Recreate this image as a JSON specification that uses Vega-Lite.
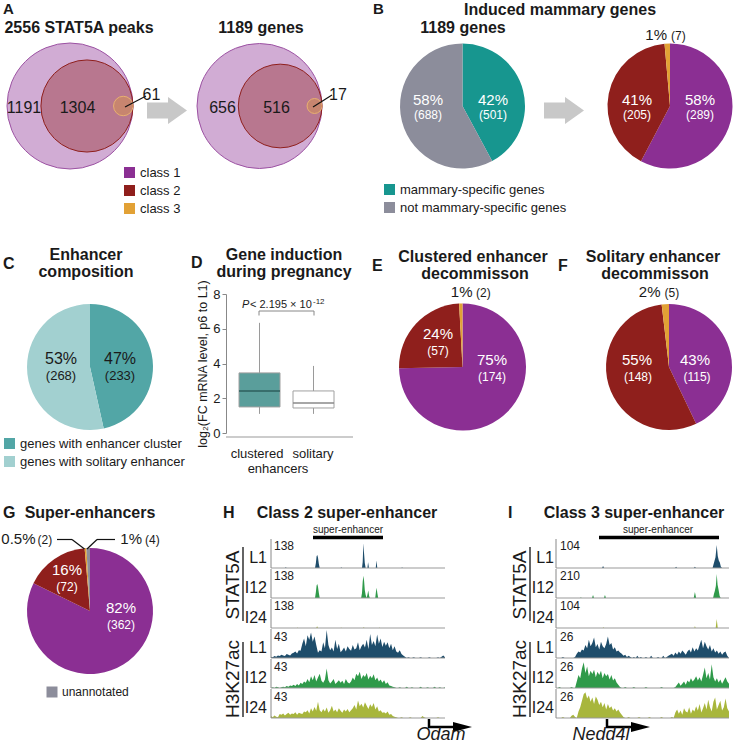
{
"$schema":"https://vega.github.io/schema/vega-lite/v6.json",
"width":733,"height":743,"autosize":{"type":"none"},"padding":0,"background":"white",
"config":{"font":"Liberation Sans","view":{"stroke":null},
"text":{"baseline":"alphabetic","align":"center","color":"#1a1a1a","fontSize":13},
"rule":{"color":"#999999","strokeWidth":1},
"legend":{"labelFontSize":13,"labelColor":"#1a1a1a","symbolType":"square","symbolSize":121,"rowPadding":4,"labelOffset":4,"padding":0,"symbolStrokeWidth":0,"labelLimit":400}},
"data":{"values":[{}]},
"datasets":{
"hS1":[{"p":0,"v":0},{"p":8,"v":0},{"p":8.5,"v":4},{"p":9,"v":0},{"p":25.3,"v":0},{"p":25.8,"v":25},{"p":26.2,"v":58},{"p":26.6,"v":64},{"p":27,"v":52},{"p":27.5,"v":20},{"p":28,"v":0},{"p":40,"v":0},{"p":40.4,"v":4},{"p":40.8,"v":0},{"p":52.3,"v":0},{"p":52.7,"v":30},{"p":53.1,"v":122},{"p":53.5,"v":70},{"p":53.9,"v":25},{"p":54.4,"v":0},{"p":55.4,"v":0},{"p":55.8,"v":28},{"p":56.3,"v":0},{"p":60.2,"v":0},{"p":60.6,"v":37},{"p":61.1,"v":0},{"p":75,"v":0},{"p":75.3,"v":4},{"p":75.7,"v":0},{"p":100,"v":0}],
"hS2":[{"p":0,"v":0},{"p":25.3,"v":0},{"p":25.8,"v":30},{"p":26.2,"v":62},{"p":26.6,"v":69},{"p":27,"v":55},{"p":27.5,"v":25},{"p":28,"v":0},{"p":51.8,"v":0},{"p":52.3,"v":25},{"p":52.7,"v":80},{"p":53.1,"v":110},{"p":53.5,"v":85},{"p":53.9,"v":40},{"p":54.4,"v":15},{"p":55,"v":0},{"p":55.5,"v":20},{"p":55.9,"v":37},{"p":56.4,"v":10},{"p":56.8,"v":0},{"p":59.9,"v":0},{"p":60.3,"v":30},{"p":60.7,"v":51},{"p":61.1,"v":25},{"p":61.6,"v":0},{"p":100,"v":0}],
"hS3":[{"p":0,"v":0},{"p":15,"v":0},{"p":15.3,"v":3},{"p":15.6,"v":0},{"p":26,"v":0},{"p":26.5,"v":9},{"p":27,"v":0},{"p":40,"v":0},{"p":40.3,"v":3},{"p":40.6,"v":0},{"p":53,"v":0},{"p":53.3,"v":5},{"p":53.7,"v":0},{"p":62,"v":0},{"p":62.3,"v":3},{"p":62.6,"v":0},{"p":100,"v":0}],
"hK1":[{"p":0,"v":2},{"p":1,"v":1},{"p":2,"v":3},{"p":3,"v":2},{"p":4,"v":4},{"p":5,"v":3},{"p":6,"v":5},{"p":7,"v":4},{"p":8,"v":3},{"p":9,"v":6},{"p":10,"v":5},{"p":11,"v":4},{"p":12,"v":7},{"p":13,"v":8},{"p":14,"v":10},{"p":15,"v":7},{"p":16,"v":12},{"p":17,"v":11},{"p":18,"v":22},{"p":19,"v":30},{"p":20,"v":18},{"p":21,"v":35},{"p":22,"v":28},{"p":23,"v":39},{"p":24,"v":25},{"p":25,"v":33},{"p":26,"v":20},{"p":27,"v":8},{"p":28,"v":12},{"p":29,"v":10},{"p":30,"v":24},{"p":31,"v":15},{"p":32,"v":43},{"p":33,"v":20},{"p":34,"v":12},{"p":35,"v":16},{"p":36,"v":10},{"p":37,"v":28},{"p":38,"v":14},{"p":39,"v":22},{"p":40,"v":9},{"p":41,"v":12},{"p":42,"v":16},{"p":43,"v":10},{"p":44,"v":18},{"p":45,"v":14},{"p":46,"v":11},{"p":47,"v":20},{"p":48,"v":13},{"p":49,"v":15},{"p":50,"v":24},{"p":51,"v":12},{"p":52,"v":18},{"p":53,"v":22},{"p":54,"v":16},{"p":55,"v":28},{"p":56,"v":14},{"p":57,"v":37},{"p":58,"v":20},{"p":59,"v":26},{"p":60,"v":18},{"p":61,"v":36},{"p":62,"v":22},{"p":63,"v":30},{"p":64,"v":17},{"p":65,"v":25},{"p":66,"v":19},{"p":67,"v":24},{"p":68,"v":15},{"p":69,"v":22},{"p":70,"v":12},{"p":71,"v":18},{"p":72,"v":10},{"p":73,"v":8},{"p":74,"v":12},{"p":75,"v":6},{"p":76,"v":4},{"p":77,"v":2},{"p":78,"v":0},{"p":79,"v":1},{"p":80,"v":0},{"p":81,"v":0},{"p":82,"v":1},{"p":83,"v":0},{"p":84,"v":0},{"p":85,"v":0},{"p":86,"v":1},{"p":87,"v":0},{"p":88,"v":0},{"p":89,"v":0},{"p":90,"v":0},{"p":91,"v":1},{"p":92,"v":0},{"p":93,"v":0},{"p":94,"v":0},{"p":95,"v":0},{"p":96,"v":1},{"p":97,"v":0},{"p":98,"v":2},{"p":99,"v":4},{"p":100,"v":1}],
"hK2":[{"p":0,"v":0},{"p":1,"v":1},{"p":2,"v":0},{"p":3,"v":2},{"p":4,"v":1},{"p":5,"v":0},{"p":6,"v":1},{"p":7,"v":2},{"p":8,"v":1},{"p":9,"v":3},{"p":10,"v":2},{"p":11,"v":4},{"p":12,"v":3},{"p":13,"v":5},{"p":14,"v":3},{"p":15,"v":6},{"p":16,"v":4},{"p":17,"v":8},{"p":18,"v":6},{"p":19,"v":10},{"p":20,"v":8},{"p":21,"v":14},{"p":22,"v":9},{"p":23,"v":18},{"p":24,"v":12},{"p":25,"v":20},{"p":26,"v":10},{"p":27,"v":16},{"p":28,"v":22},{"p":29,"v":11},{"p":30,"v":8},{"p":31,"v":13},{"p":32,"v":30},{"p":33,"v":12},{"p":34,"v":7},{"p":35,"v":10},{"p":36,"v":14},{"p":37,"v":6},{"p":38,"v":9},{"p":39,"v":12},{"p":40,"v":8},{"p":41,"v":11},{"p":42,"v":6},{"p":43,"v":14},{"p":44,"v":9},{"p":45,"v":7},{"p":46,"v":10},{"p":47,"v":16},{"p":48,"v":12},{"p":49,"v":22},{"p":50,"v":18},{"p":51,"v":25},{"p":52,"v":14},{"p":53,"v":20},{"p":54,"v":17},{"p":55,"v":23},{"p":56,"v":13},{"p":57,"v":19},{"p":58,"v":15},{"p":59,"v":21},{"p":60,"v":12},{"p":61,"v":16},{"p":62,"v":10},{"p":63,"v":13},{"p":64,"v":8},{"p":65,"v":12},{"p":66,"v":6},{"p":67,"v":9},{"p":68,"v":4},{"p":69,"v":3},{"p":70,"v":2},{"p":71,"v":1},{"p":72,"v":0},{"p":73,"v":0},{"p":74,"v":1},{"p":75,"v":0},{"p":76,"v":0},{"p":77,"v":0},{"p":78,"v":2},{"p":79,"v":0},{"p":80,"v":0},{"p":81,"v":1},{"p":82,"v":0},{"p":83,"v":0},{"p":84,"v":0},{"p":85,"v":0},{"p":86,"v":2},{"p":87,"v":0},{"p":88,"v":0},{"p":89,"v":0},{"p":90,"v":1},{"p":91,"v":0},{"p":92,"v":0},{"p":93,"v":0},{"p":94,"v":2},{"p":95,"v":0},{"p":96,"v":0},{"p":97,"v":1},{"p":98,"v":0},{"p":99,"v":0},{"p":100,"v":1}],
"hK3":[{"p":0,"v":3},{"p":1,"v":1},{"p":2,"v":4},{"p":3,"v":2},{"p":4,"v":1},{"p":5,"v":6},{"p":6,"v":5},{"p":7,"v":7},{"p":8,"v":4},{"p":9,"v":6},{"p":10,"v":8},{"p":11,"v":5},{"p":12,"v":7},{"p":13,"v":6},{"p":14,"v":9},{"p":15,"v":5},{"p":16,"v":8},{"p":17,"v":7},{"p":18,"v":6},{"p":19,"v":10},{"p":20,"v":9},{"p":21,"v":12},{"p":22,"v":7},{"p":23,"v":15},{"p":24,"v":10},{"p":25,"v":17},{"p":26,"v":11},{"p":27,"v":25},{"p":28,"v":12},{"p":29,"v":9},{"p":30,"v":14},{"p":31,"v":10},{"p":32,"v":16},{"p":33,"v":8},{"p":34,"v":12},{"p":35,"v":19},{"p":36,"v":10},{"p":37,"v":13},{"p":38,"v":9},{"p":39,"v":15},{"p":40,"v":11},{"p":41,"v":8},{"p":42,"v":13},{"p":43,"v":10},{"p":44,"v":14},{"p":45,"v":9},{"p":46,"v":12},{"p":47,"v":15},{"p":48,"v":20},{"p":49,"v":13},{"p":50,"v":27},{"p":51,"v":18},{"p":52,"v":22},{"p":53,"v":16},{"p":54,"v":24},{"p":55,"v":19},{"p":56,"v":14},{"p":57,"v":21},{"p":58,"v":17},{"p":59,"v":23},{"p":60,"v":13},{"p":61,"v":18},{"p":62,"v":10},{"p":63,"v":12},{"p":64,"v":8},{"p":65,"v":9},{"p":66,"v":7},{"p":67,"v":10},{"p":68,"v":5},{"p":69,"v":6},{"p":70,"v":3},{"p":71,"v":2},{"p":72,"v":1},{"p":73,"v":0},{"p":74,"v":0},{"p":75,"v":1},{"p":76,"v":0},{"p":77,"v":0},{"p":78,"v":0},{"p":79,"v":0},{"p":80,"v":1},{"p":81,"v":0},{"p":82,"v":0},{"p":83,"v":0},{"p":84,"v":0},{"p":85,"v":0},{"p":86,"v":0},{"p":87,"v":3},{"p":88,"v":1},{"p":89,"v":0},{"p":90,"v":0},{"p":91,"v":0},{"p":92,"v":0},{"p":93,"v":0},{"p":94,"v":0},{"p":95,"v":0},{"p":96,"v":1},{"p":97,"v":0},{"p":98,"v":0},{"p":99,"v":0},{"p":100,"v":0}],
"iS1":[{"p":0,"v":0},{"p":26.6,"v":0},{"p":27.2,"v":7},{"p":27.8,"v":0},{"p":68.8,"v":0},{"p":69.4,"v":5},{"p":70,"v":0},{"p":79.7,"v":0},{"p":80.3,"v":5},{"p":80.9,"v":0},{"p":90.5,"v":0},{"p":91,"v":12},{"p":91.6,"v":26},{"p":92.2,"v":40},{"p":92.9,"v":85},{"p":93.5,"v":45},{"p":94.1,"v":28},{"p":94.7,"v":20},{"p":95.3,"v":5},{"p":96,"v":0},{"p":100,"v":0}],
"iS2":[{"p":0,"v":0},{"p":14,"v":0},{"p":14.4,"v":6},{"p":14.8,"v":0},{"p":20.8,"v":0},{"p":21.4,"v":22},{"p":22,"v":0},{"p":27.7,"v":0},{"p":28.3,"v":22},{"p":28.9,"v":0},{"p":79.6,"v":0},{"p":80.3,"v":45},{"p":81,"v":0},{"p":90.8,"v":0},{"p":91.3,"v":30},{"p":91.8,"v":52},{"p":92.4,"v":90},{"p":92.9,"v":180},{"p":93.4,"v":100},{"p":94,"v":60},{"p":94.6,"v":15},{"p":95.2,"v":0},{"p":100,"v":0}],
"iS3":[{"p":0,"v":0},{"p":27,"v":0},{"p":27.4,"v":3},{"p":27.8,"v":0},{"p":80,"v":0},{"p":80.3,"v":7},{"p":80.7,"v":0},{"p":92.3,"v":0},{"p":92.9,"v":33},{"p":93.5,"v":0},{"p":100,"v":0}],
"iK1":[{"p":0,"v":0},{"p":1,"v":0},{"p":2,"v":0},{"p":3,"v":0},{"p":4,"v":1},{"p":5,"v":0},{"p":6,"v":0},{"p":7,"v":0},{"p":8,"v":0},{"p":9,"v":0},{"p":10,"v":0},{"p":11,"v":1},{"p":12,"v":4},{"p":13,"v":6},{"p":14,"v":5},{"p":15,"v":8},{"p":16,"v":7},{"p":17,"v":12},{"p":18,"v":9},{"p":19,"v":17},{"p":20,"v":11},{"p":21,"v":14},{"p":22,"v":19},{"p":23,"v":10},{"p":24,"v":13},{"p":25,"v":8},{"p":26,"v":15},{"p":27,"v":11},{"p":28,"v":9},{"p":29,"v":13},{"p":30,"v":20},{"p":31,"v":12},{"p":32,"v":14},{"p":33,"v":8},{"p":34,"v":10},{"p":35,"v":6},{"p":36,"v":7},{"p":37,"v":5},{"p":38,"v":4},{"p":39,"v":2},{"p":40,"v":3},{"p":41,"v":1},{"p":42,"v":2},{"p":43,"v":1},{"p":44,"v":0},{"p":45,"v":1},{"p":46,"v":0},{"p":47,"v":2},{"p":48,"v":0},{"p":49,"v":1},{"p":50,"v":0},{"p":51,"v":0},{"p":52,"v":1},{"p":53,"v":0},{"p":54,"v":0},{"p":55,"v":2},{"p":56,"v":0},{"p":57,"v":0},{"p":58,"v":0},{"p":59,"v":1},{"p":60,"v":0},{"p":61,"v":0},{"p":62,"v":2},{"p":63,"v":0},{"p":64,"v":1},{"p":65,"v":2},{"p":66,"v":3},{"p":67,"v":4},{"p":68,"v":2},{"p":69,"v":5},{"p":70,"v":3},{"p":71,"v":6},{"p":72,"v":4},{"p":73,"v":7},{"p":74,"v":5},{"p":75,"v":3},{"p":76,"v":6},{"p":77,"v":8},{"p":78,"v":5},{"p":79,"v":10},{"p":80,"v":6},{"p":81,"v":9},{"p":82,"v":7},{"p":83,"v":12},{"p":84,"v":17},{"p":85,"v":9},{"p":86,"v":15},{"p":87,"v":11},{"p":88,"v":8},{"p":89,"v":12},{"p":90,"v":6},{"p":91,"v":9},{"p":92,"v":5},{"p":93,"v":7},{"p":94,"v":4},{"p":95,"v":6},{"p":96,"v":3},{"p":97,"v":5},{"p":98,"v":6},{"p":99,"v":2},{"p":100,"v":0}],
"iK2":[{"p":0,"v":0},{"p":1,"v":0},{"p":2,"v":1},{"p":3,"v":0},{"p":4,"v":0},{"p":5,"v":0},{"p":6,"v":0},{"p":7,"v":0},{"p":8,"v":0},{"p":9,"v":1},{"p":10,"v":0},{"p":11,"v":0},{"p":12,"v":6},{"p":13,"v":12},{"p":14,"v":9},{"p":15,"v":18},{"p":16,"v":24},{"p":17,"v":14},{"p":18,"v":20},{"p":19,"v":11},{"p":20,"v":16},{"p":21,"v":13},{"p":22,"v":17},{"p":23,"v":10},{"p":24,"v":15},{"p":25,"v":12},{"p":26,"v":16},{"p":27,"v":9},{"p":28,"v":14},{"p":29,"v":11},{"p":30,"v":13},{"p":31,"v":8},{"p":32,"v":12},{"p":33,"v":7},{"p":34,"v":9},{"p":35,"v":5},{"p":36,"v":3},{"p":37,"v":1},{"p":38,"v":0},{"p":39,"v":0},{"p":40,"v":1},{"p":41,"v":0},{"p":42,"v":0},{"p":43,"v":0},{"p":44,"v":0},{"p":45,"v":1},{"p":46,"v":0},{"p":47,"v":0},{"p":48,"v":0},{"p":49,"v":0},{"p":50,"v":0},{"p":51,"v":0},{"p":52,"v":1},{"p":53,"v":0},{"p":54,"v":0},{"p":55,"v":0},{"p":56,"v":0},{"p":57,"v":0},{"p":58,"v":0},{"p":59,"v":0},{"p":60,"v":0},{"p":61,"v":1},{"p":62,"v":0},{"p":63,"v":0},{"p":64,"v":0},{"p":65,"v":0},{"p":66,"v":0},{"p":67,"v":0},{"p":68,"v":0},{"p":69,"v":1},{"p":70,"v":3},{"p":71,"v":5},{"p":72,"v":2},{"p":73,"v":4},{"p":74,"v":6},{"p":75,"v":3},{"p":76,"v":7},{"p":77,"v":5},{"p":78,"v":9},{"p":79,"v":6},{"p":80,"v":8},{"p":81,"v":11},{"p":82,"v":7},{"p":83,"v":10},{"p":84,"v":6},{"p":85,"v":12},{"p":86,"v":19},{"p":87,"v":9},{"p":88,"v":14},{"p":89,"v":8},{"p":90,"v":22},{"p":91,"v":10},{"p":92,"v":6},{"p":93,"v":9},{"p":94,"v":5},{"p":95,"v":8},{"p":96,"v":4},{"p":97,"v":7},{"p":98,"v":10},{"p":99,"v":6},{"p":100,"v":4}],
"iK3":[{"p":0,"v":0},{"p":1,"v":0},{"p":2,"v":0},{"p":3,"v":0},{"p":4,"v":1},{"p":5,"v":0},{"p":6,"v":0},{"p":7,"v":0},{"p":8,"v":0},{"p":9,"v":2},{"p":10,"v":3},{"p":11,"v":1},{"p":12,"v":0},{"p":13,"v":6},{"p":14,"v":10},{"p":15,"v":16},{"p":16,"v":22},{"p":17,"v":24},{"p":18,"v":18},{"p":19,"v":21},{"p":20,"v":15},{"p":21,"v":19},{"p":22,"v":13},{"p":23,"v":20},{"p":24,"v":17},{"p":25,"v":12},{"p":26,"v":15},{"p":27,"v":10},{"p":28,"v":14},{"p":29,"v":8},{"p":30,"v":13},{"p":31,"v":9},{"p":32,"v":11},{"p":33,"v":7},{"p":34,"v":9},{"p":35,"v":6},{"p":36,"v":8},{"p":37,"v":5},{"p":38,"v":3},{"p":39,"v":1},{"p":40,"v":0},{"p":41,"v":0},{"p":42,"v":1},{"p":43,"v":0},{"p":44,"v":0},{"p":45,"v":0},{"p":46,"v":0},{"p":47,"v":0},{"p":48,"v":1},{"p":49,"v":0},{"p":50,"v":0},{"p":51,"v":0},{"p":52,"v":0},{"p":53,"v":0},{"p":54,"v":1},{"p":55,"v":0},{"p":56,"v":0},{"p":57,"v":0},{"p":58,"v":0},{"p":59,"v":0},{"p":60,"v":0},{"p":61,"v":1},{"p":62,"v":0},{"p":63,"v":0},{"p":64,"v":0},{"p":65,"v":0},{"p":66,"v":0},{"p":67,"v":1},{"p":68,"v":0},{"p":69,"v":5},{"p":70,"v":8},{"p":71,"v":4},{"p":72,"v":7},{"p":73,"v":3},{"p":74,"v":9},{"p":75,"v":6},{"p":76,"v":5},{"p":77,"v":10},{"p":78,"v":4},{"p":79,"v":8},{"p":80,"v":6},{"p":81,"v":11},{"p":82,"v":7},{"p":83,"v":13},{"p":84,"v":5},{"p":85,"v":9},{"p":86,"v":14},{"p":87,"v":8},{"p":88,"v":17},{"p":89,"v":10},{"p":90,"v":6},{"p":91,"v":15},{"p":92,"v":19},{"p":93,"v":8},{"p":94,"v":12},{"p":95,"v":16},{"p":96,"v":7},{"p":97,"v":10},{"p":98,"v":18},{"p":99,"v":9},{"p":100,"v":6}]
},
"resolve":{"scale":{"x":"independent","y":"independent","theta":"independent","color":"independent","fill":"independent","stroke":"independent","size":"independent","fillOpacity":"independent"},"axis":{"x":"independent","y":"independent"},"legend":{"color":"independent","fill":"independent","stroke":"independent","size":"independent","fillOpacity":"independent"}},
"layer":[
{"data":{"values":[{"cls":"class 1","n":2556},{"cls":"class 2","n":1365},{"cls":"class 3","n":61}]},
"mark":{"type":"point","filled":true,"opacity":1,"y":106,"strokeWidth":1},
"encoding":{"x":{"field":"n","type":"quantitative","scale":{"type":"sqrt","domain":[0,2556],"range":[133,70],"zero":false,"nice":false},"axis":null},
"size":{"field":"n","type":"quantitative","scale":{"type":"linear","domain":[0,2556],"range":[0,15876],"nice":false},"legend":null},
"fill":{"field":"cls","type":"nominal","scale":{"domain":["class 1","class 2","class 3"],"range":["#8b2f93","#8f1f1c","#e2a135"]},"legend":null},
"fillOpacity":{"field":"cls","type":"nominal","scale":{"domain":["class 1","class 2","class 3"],"range":[0.4,0.35,0.6]},"legend":null},
"stroke":{"field":"cls","type":"nominal","scale":{"domain":["class 1","class 2","class 3"],"range":["#9c52a3","#8f1f1c","#e8b070"]},"legend":null}}},
{"data":{"values":[{"cls":"class 1","n":1189},{"cls":"class 2","n":533},{"cls":"class 3","n":17}]},
"mark":{"type":"point","filled":true,"opacity":1,"y":106,"strokeWidth":1},
"encoding":{"x":{"field":"n","type":"quantitative","scale":{"type":"sqrt","domain":[0,1189],"range":[322,259.5],"zero":false,"nice":false},"axis":null},
"size":{"field":"n","type":"quantitative","scale":{"type":"linear","domain":[0,1189],"range":[0,15625],"nice":false},"legend":null},
"fill":{"field":"cls","type":"nominal","scale":{"domain":["class 1","class 2","class 3"],"range":["#8b2f93","#8f1f1c","#e2a135"]},"legend":null},
"fillOpacity":{"field":"cls","type":"nominal","scale":{"domain":["class 1","class 2","class 3"],"range":[0.4,0.35,0.6]},"legend":null},
"stroke":{"field":"cls","type":"nominal","scale":{"domain":["class 1","class 2","class 3"],"range":["#9c52a3","#8f1f1c","#e8b070"]},"legend":null}}},
{"mark":{"type":"point","shape":"M-1,-0.4L0.05,-0.4L0.05,-0.675L1,0L0.05,0.675L0.05,0.4L-1,0.4Z","x":167,"y":110.5,"size":1600,"filled":true,"color":"#c8c8c8","opacity":1}},
{"mark":{"type":"point","shape":"M-1,-0.4L0.05,-0.4L0.05,-0.675L1,0L0.05,0.675L0.05,0.4L-1,0.4Z","x":564,"y":110.5,"size":1600,"filled":true,"color":"#c8c8c8","opacity":1}},
{"data":{"values":[{"cls":"mammary-specific genes","n":501},{"cls":"not mammary-specific genes","n":688}]},
"mark":{"type":"arc","x":462.5,"y":106,"outerRadius":62.5},
"encoding":{"theta":{"field":"n","type":"quantitative","stack":true},"color":{"field":"cls","type":"nominal","scale":{"domain":["mammary-specific genes","not mammary-specific genes"],"range":["#17968f","#8c8d9b"]},"legend":{"orient":"none","legendX":383,"legendY":183,"title":null}}}},
{"data":{"values":[{"cls":"class 1","n":289},{"cls":"class 2","n":205},{"cls":"class 3","n":7}]},
"mark":{"type":"arc","x":670,"y":106,"outerRadius":62.5},
"encoding":{"theta":{"field":"n","type":"quantitative","stack":true},"color":{"field":"cls","type":"nominal","scale":{"domain":["class 1","class 2","class 3"],"range":["#8b2f93","#8f1f1c","#e2a135"]},"legend":{"orient":"none","legendX":123,"legendY":166,"title":null}}}},
{"data":{"values":[{"cls":"genes with enhancer cluster","n":233},{"cls":"genes with solitary enhancer","n":268}]},
"mark":{"type":"arc","x":90,"y":367,"outerRadius":63},
"encoding":{"theta":{"field":"n","type":"quantitative","stack":true},"color":{"field":"cls","type":"nominal","scale":{"domain":["genes with enhancer cluster","genes with solitary enhancer"],"range":["#52a6a6","#a2d0d0"]},"legend":{"orient":"none","legendX":3,"legendY":437,"title":null}}}},
{"data":{"values":[{"cls":"class 1","n":174},{"cls":"class 2","n":57},{"cls":"class 3","n":2}]},
"mark":{"type":"arc","x":462.5,"y":367,"outerRadius":63.5},
"encoding":{"theta":{"field":"n","type":"quantitative","stack":true},"color":{"field":"cls","type":"nominal","scale":{"domain":["class 1","class 2","class 3"],"range":["#8b2f93","#8f1f1c","#e2a135"]},"legend":null}}},
{"data":{"values":[{"cls":"class 1","n":115},{"cls":"class 2","n":148},{"cls":"class 3","n":5}]},
"mark":{"type":"arc","x":669,"y":367,"outerRadius":63},
"encoding":{"theta":{"field":"n","type":"quantitative","stack":true},"color":{"field":"cls","type":"nominal","scale":{"domain":["class 1","class 2","class 3"],"range":["#8b2f93","#8f1f1c","#e2a135"]},"legend":null}}},
{"data":{"values":[{"cls":"class 1","n":362},{"cls":"class 2","n":72},{"cls":"class 3","n":2},{"cls":"unannotated","n":4}]},
"mark":{"type":"arc","x":90,"y":611,"outerRadius":63},
"encoding":{"theta":{"field":"n","type":"quantitative","stack":true},"color":{"field":"cls","type":"nominal","scale":{"domain":["class 1","class 2","class 3","unannotated"],"range":["#8b2f93","#8f1f1c","#e2a135","#8c8d9b"]},"legend":{"orient":"none","legendX":46,"legendY":686,"title":null,"values":["unannotated"],"labelFontSize":12}}}},
{"data":{"values":[{"g":"clustered","lo":1.1,"q1":1.5,"med":2.42,"q3":3.46,"hi":6.34},{"g":"solitary","lo":1.1,"q1":1.44,"med":1.73,"q3":2.42,"hi":3.86}]},
"encoding":{"x":{"field":"g","type":"nominal","scale":{"domain":["clustered","solitary"],"range":[232.5,340.5],"paddingInner":0,"paddingOuter":0},"axis":null}},
"layer":[
{"mark":{"type":"rule","color":"#9a9a9a"},"encoding":{"y":{"field":"lo","type":"quantitative","scale":{"domain":[0,8],"range":[433,294],"nice":false,"zero":false},"axis":{"orient":"left","offset":-226,"values":[0,2,4,6,8],"format":"d","grid":false,"labelFontSize":13,"labelColor":"#1a1a1a","labelPadding":2,"tickSize":4,"tickColor":"#888888","domainColor":"#888888","title":"log₂(FC mRNA level, p6 to L1)","titleFontSize":12.5,"titleFontWeight":"normal","titleColor":"#1a1a1a","titlePadding":3}},"y2":{"field":"hi"}}},
{"mark":{"type":"bar","width":41,"stroke":"#a0a0a0","strokeWidth":1},"encoding":{"y":{"field":"q1","type":"quantitative"},"y2":{"field":"q3"},"fill":{"field":"g","type":"nominal","scale":{"domain":["clustered","solitary"],"range":["#5a9e9b","#ffffff"]},"legend":null}}},
{"mark":{"type":"tick","thickness":1.5,"size":41,"opacity":1},"encoding":{"y":{"field":"med","type":"quantitative"},"color":{"field":"g","type":"nominal","scale":{"domain":["clustered","solitary"],"range":["#2e5e5c","#8a8a8a"]},"legend":null}}}
]},
{"data":{"name":"hS1"},"mark":{"type":"area","color":"#1e4d6b"},"encoding":{"x":{"field":"p","type":"quantitative","scale":{"domain":[0,100],"range":[271,445],"zero":false,"nice":false},"axis":null},"y":{"field":"v","type":"quantitative","scale":{"domain":[0,138],"range":[568,540],"nice":false},"axis":null}}},
{"data":{"name":"hS2"},"mark":{"type":"area","color":"#2f9a4a"},"encoding":{"x":{"field":"p","type":"quantitative","scale":{"domain":[0,100],"range":[271,445],"zero":false,"nice":false},"axis":null},"y":{"field":"v","type":"quantitative","scale":{"domain":[0,138],"range":[598,570],"nice":false},"axis":null}}},
{"data":{"name":"hS3"},"mark":{"type":"area","color":"#a8b63c"},"encoding":{"x":{"field":"p","type":"quantitative","scale":{"domain":[0,100],"range":[271,445],"zero":false,"nice":false},"axis":null},"y":{"field":"v","type":"quantitative","scale":{"domain":[0,138],"range":[628,600],"nice":false},"axis":null}}},
{"data":{"name":"hK1"},"mark":{"type":"area","color":"#1e4d6b"},"encoding":{"x":{"field":"p","type":"quantitative","scale":{"domain":[0,100],"range":[271,445],"zero":false,"nice":false},"axis":null},"y":{"field":"v","type":"quantitative","scale":{"domain":[0,43],"range":[658,630],"nice":false},"axis":null}}},
{"data":{"name":"hK2"},"mark":{"type":"area","color":"#2f9a4a"},"encoding":{"x":{"field":"p","type":"quantitative","scale":{"domain":[0,100],"range":[271,445],"zero":false,"nice":false},"axis":null},"y":{"field":"v","type":"quantitative","scale":{"domain":[0,43],"range":[688,660],"nice":false},"axis":null}}},
{"data":{"name":"hK3"},"mark":{"type":"area","color":"#a8b63c"},"encoding":{"x":{"field":"p","type":"quantitative","scale":{"domain":[0,100],"range":[271,445],"zero":false,"nice":false},"axis":null},"y":{"field":"v","type":"quantitative","scale":{"domain":[0,43],"range":[718,690],"nice":false},"axis":null}}},
{"data":{"name":"iS1"},"mark":{"type":"area","color":"#1e4d6b"},"encoding":{"x":{"field":"p","type":"quantitative","scale":{"domain":[0,100],"range":[556,729],"zero":false,"nice":false},"axis":null},"y":{"field":"v","type":"quantitative","scale":{"domain":[0,104],"range":[568,540],"nice":false},"axis":null}}},
{"data":{"name":"iS2"},"mark":{"type":"area","color":"#2f9a4a"},"encoding":{"x":{"field":"p","type":"quantitative","scale":{"domain":[0,100],"range":[556,729],"zero":false,"nice":false},"axis":null},"y":{"field":"v","type":"quantitative","scale":{"domain":[0,210],"range":[598,570],"nice":false},"axis":null}}},
{"data":{"name":"iS3"},"mark":{"type":"area","color":"#a8b63c"},"encoding":{"x":{"field":"p","type":"quantitative","scale":{"domain":[0,100],"range":[556,729],"zero":false,"nice":false},"axis":null},"y":{"field":"v","type":"quantitative","scale":{"domain":[0,104],"range":[628,600],"nice":false},"axis":null}}},
{"data":{"name":"iK1"},"mark":{"type":"area","color":"#1e4d6b"},"encoding":{"x":{"field":"p","type":"quantitative","scale":{"domain":[0,100],"range":[556,729],"zero":false,"nice":false},"axis":null},"y":{"field":"v","type":"quantitative","scale":{"domain":[0,26],"range":[658,630],"nice":false},"axis":null}}},
{"data":{"name":"iK2"},"mark":{"type":"area","color":"#2f9a4a"},"encoding":{"x":{"field":"p","type":"quantitative","scale":{"domain":[0,100],"range":[556,729],"zero":false,"nice":false},"axis":null},"y":{"field":"v","type":"quantitative","scale":{"domain":[0,26],"range":[688,660],"nice":false},"axis":null}}},
{"data":{"name":"iK3"},"mark":{"type":"area","color":"#a8b63c"},"encoding":{"x":{"field":"p","type":"quantitative","scale":{"domain":[0,100],"range":[556,729],"zero":false,"nice":false},"axis":null},"y":{"field":"v","type":"quantitative","scale":{"domain":[0,26],"range":[718,690],"nice":false},"axis":null}}},
{"mark":{"type":"rule","color":"#111111","strokeWidth":1.2},"encoding":{"x":{"value":125},"y":{"value":107},"x2":{"value":146},"y2":{"value":96}}},
{"mark":{"type":"rule","color":"#111111","strokeWidth":1.2},"encoding":{"x":{"value":313},"y":{"value":107},"x2":{"value":332},"y2":{"value":95}}},
{"mark":{"type":"rule","color":"#999999"},"encoding":{"x":{"value":226},"y":{"value":437},"x2":{"value":353},"y2":{"value":437}}},
{"mark":{"type":"rule","color":"#888888"},"encoding":{"x":{"value":259},"y":{"value":311},"x2":{"value":314},"y2":{"value":311}}},
{"mark":{"type":"rule","color":"#888888"},"encoding":{"x":{"value":259},"y":{"value":311},"x2":{"value":259},"y2":{"value":315.5}}},
{"mark":{"type":"rule","color":"#888888"},"encoding":{"x":{"value":314},"y":{"value":311},"x2":{"value":314},"y2":{"value":315.5}}},
{"mark":{"type":"rule","color":"#111111","strokeWidth":1.2},"encoding":{"x":{"value":57},"y":{"value":539.5},"x2":{"value":72},"y2":{"value":539.5}}},
{"mark":{"type":"rule","color":"#111111","strokeWidth":1.2},"encoding":{"x":{"value":72},"y":{"value":539.5},"x2":{"value":84.5},"y2":{"value":549}}},
{"mark":{"type":"rule","color":"#111111","strokeWidth":1.2},"encoding":{"x":{"value":115},"y":{"value":539.5},"x2":{"value":97},"y2":{"value":539.5}}},
{"mark":{"type":"rule","color":"#111111","strokeWidth":1.2},"encoding":{"x":{"value":97},"y":{"value":539.5},"x2":{"value":87},"y2":{"value":549}}},
{"mark":{"type":"rule"},"encoding":{"x":{"value":271},"y":{"value":568},"x2":{"value":445},"y2":{"value":568}}},
{"mark":{"type":"rule"},"encoding":{"x":{"value":271},"y":{"value":598},"x2":{"value":445},"y2":{"value":598}}},
{"mark":{"type":"rule"},"encoding":{"x":{"value":271},"y":{"value":628},"x2":{"value":445},"y2":{"value":628}}},
{"mark":{"type":"rule"},"encoding":{"x":{"value":271},"y":{"value":658},"x2":{"value":445},"y2":{"value":658}}},
{"mark":{"type":"rule"},"encoding":{"x":{"value":271},"y":{"value":688},"x2":{"value":445},"y2":{"value":688}}},
{"mark":{"type":"rule"},"encoding":{"x":{"value":271},"y":{"value":718},"x2":{"value":445},"y2":{"value":718}}},
{"mark":{"type":"rule"},"encoding":{"x":{"value":556},"y":{"value":568},"x2":{"value":729},"y2":{"value":568}}},
{"mark":{"type":"rule"},"encoding":{"x":{"value":556},"y":{"value":598},"x2":{"value":729},"y2":{"value":598}}},
{"mark":{"type":"rule"},"encoding":{"x":{"value":556},"y":{"value":628},"x2":{"value":729},"y2":{"value":628}}},
{"mark":{"type":"rule"},"encoding":{"x":{"value":556},"y":{"value":658},"x2":{"value":729},"y2":{"value":658}}},
{"mark":{"type":"rule"},"encoding":{"x":{"value":556},"y":{"value":688},"x2":{"value":729},"y2":{"value":688}}},
{"mark":{"type":"rule"},"encoding":{"x":{"value":556},"y":{"value":718},"x2":{"value":729},"y2":{"value":718}}},
{"mark":{"type":"rule","color":"#888888"},"encoding":{"x":{"value":271},"y":{"value":539},"x2":{"value":271},"y2":{"value":568}}},
{"mark":{"type":"rule","color":"#888888"},"encoding":{"x":{"value":271},"y":{"value":569},"x2":{"value":271},"y2":{"value":598}}},
{"mark":{"type":"rule","color":"#888888"},"encoding":{"x":{"value":271},"y":{"value":599},"x2":{"value":271},"y2":{"value":628}}},
{"mark":{"type":"rule","color":"#888888"},"encoding":{"x":{"value":271},"y":{"value":629},"x2":{"value":271},"y2":{"value":658}}},
{"mark":{"type":"rule","color":"#888888"},"encoding":{"x":{"value":271},"y":{"value":659},"x2":{"value":271},"y2":{"value":688}}},
{"mark":{"type":"rule","color":"#888888"},"encoding":{"x":{"value":271},"y":{"value":689},"x2":{"value":271},"y2":{"value":718}}},
{"mark":{"type":"rule","color":"#888888"},"encoding":{"x":{"value":556},"y":{"value":539},"x2":{"value":556},"y2":{"value":568}}},
{"mark":{"type":"rule","color":"#888888"},"encoding":{"x":{"value":556},"y":{"value":569},"x2":{"value":556},"y2":{"value":598}}},
{"mark":{"type":"rule","color":"#888888"},"encoding":{"x":{"value":556},"y":{"value":599},"x2":{"value":556},"y2":{"value":628}}},
{"mark":{"type":"rule","color":"#888888"},"encoding":{"x":{"value":556},"y":{"value":629},"x2":{"value":556},"y2":{"value":658}}},
{"mark":{"type":"rule","color":"#888888"},"encoding":{"x":{"value":556},"y":{"value":659},"x2":{"value":556},"y2":{"value":688}}},
{"mark":{"type":"rule","color":"#888888"},"encoding":{"x":{"value":556},"y":{"value":689},"x2":{"value":556},"y2":{"value":718}}},
{"mark":{"type":"rule","color":"#111111","strokeWidth":1.3},"encoding":{"x":{"value":243},"y":{"value":547},"x2":{"value":243},"y2":{"value":621}}},
{"mark":{"type":"rule","color":"#111111","strokeWidth":1.3},"encoding":{"x":{"value":243},"y":{"value":642},"x2":{"value":243},"y2":{"value":717}}},
{"mark":{"type":"rule","color":"#111111","strokeWidth":1.3},"encoding":{"x":{"value":530},"y":{"value":547},"x2":{"value":530},"y2":{"value":621}}},
{"mark":{"type":"rule","color":"#111111","strokeWidth":1.3},"encoding":{"x":{"value":530},"y":{"value":642},"x2":{"value":530},"y2":{"value":717}}},
{"mark":{"type":"rule","color":"#000000","strokeWidth":3.5},"encoding":{"x":{"value":313},"y":{"value":537.5},"x2":{"value":383},"y2":{"value":537.5}}},
{"mark":{"type":"rule","color":"#000000","strokeWidth":3.5},"encoding":{"x":{"value":599},"y":{"value":537.5},"x2":{"value":719},"y2":{"value":537.5}}},
{"mark":{"type":"rule","color":"#000000","strokeWidth":2.5},"encoding":{"x":{"value":429},"y":{"value":719},"x2":{"value":429},"y2":{"value":728}}},
{"mark":{"type":"rule","color":"#000000","strokeWidth":2.5},"encoding":{"x":{"value":428},"y":{"value":727},"x2":{"value":455},"y2":{"value":727}}},
{"mark":{"type":"rule","color":"#000000","strokeWidth":2.5},"encoding":{"x":{"value":607},"y":{"value":719},"x2":{"value":607},"y2":{"value":728}}},
{"mark":{"type":"rule","color":"#000000","strokeWidth":2.5},"encoding":{"x":{"value":606},"y":{"value":727},"x2":{"value":633},"y2":{"value":727}}},
{"mark":{"type":"point","shape":"M-1,-0.53L1,0L-1,0.53Z","x":462.5,"y":727,"size":361,"filled":true,"color":"#000000","opacity":1}},
{"mark":{"type":"point","shape":"M-1,-0.53L1,0L-1,0.53Z","x":640.5,"y":727,"size":361,"filled":true,"color":"#000000","opacity":1}},
{"mark":{"type":"text","x":3,"y":14,"text":"A","fontSize":15,"fontWeight":"bold","align":"left"}},
{"mark":{"type":"text","x":373,"y":14,"text":"B","fontSize":15,"fontWeight":"bold","align":"left"}},
{"mark":{"type":"text","x":3,"y":269,"text":"C","fontSize":16,"fontWeight":"bold","align":"left"}},
{"mark":{"type":"text","x":191,"y":268,"text":"D","fontSize":16,"fontWeight":"bold","align":"left"}},
{"mark":{"type":"text","x":372,"y":271,"text":"E","fontSize":16,"fontWeight":"bold","align":"left"}},
{"mark":{"type":"text","x":558,"y":271,"text":"F","fontSize":16,"fontWeight":"bold","align":"left"}},
{"mark":{"type":"text","x":3,"y":518,"text":"G","fontSize":16,"fontWeight":"bold","align":"left"}},
{"mark":{"type":"text","x":223,"y":518,"text":"H","fontSize":16,"fontWeight":"bold","align":"left"}},
{"mark":{"type":"text","x":508,"y":518,"text":"I","fontSize":16,"fontWeight":"bold","align":"left"}},
{"mark":{"type":"text","x":79,"y":33,"text":"2556 STAT5A peaks","fontSize":16,"fontWeight":"bold"}},
{"mark":{"type":"text","x":261,"y":33,"text":"1189 genes","fontSize":16,"fontWeight":"bold"}},
{"mark":{"type":"text","x":560,"y":15,"text":"Induced mammary genes","fontSize":16,"fontWeight":"bold"}},
{"mark":{"type":"text","x":463,"y":33,"text":"1189 genes","fontSize":16,"fontWeight":"bold"}},
{"mark":{"type":"text","x":86,"y":260,"text":"Enhancer","fontSize":16,"fontWeight":"bold"}},
{"mark":{"type":"text","x":86,"y":277,"text":"composition","fontSize":16,"fontWeight":"bold"}},
{"mark":{"type":"text","x":284,"y":260,"text":"Gene induction","fontSize":16,"fontWeight":"bold"}},
{"mark":{"type":"text","x":284,"y":277,"text":"during pregnancy","fontSize":16,"fontWeight":"bold"}},
{"mark":{"type":"text","x":473,"y":262,"text":"Clustered enhancer","fontSize":16,"fontWeight":"bold"}},
{"mark":{"type":"text","x":475,"y":279,"text":"decommisson","fontSize":16,"fontWeight":"bold"}},
{"mark":{"type":"text","x":653,"y":262,"text":"Solitary enhancer","fontSize":16,"fontWeight":"bold"}},
{"mark":{"type":"text","x":655,"y":279,"text":"decommisson","fontSize":16,"fontWeight":"bold"}},
{"mark":{"type":"text","x":90,"y":518,"text":"Super-enhancers","fontSize":16,"fontWeight":"bold"}},
{"mark":{"type":"text","x":347,"y":518,"text":"Class 2 super-enhancer","fontSize":16,"fontWeight":"bold"}},
{"mark":{"type":"text","x":634,"y":518,"text":"Class 3 super-enhancer","fontSize":16,"fontWeight":"bold"}},
{"mark":{"type":"text","x":24,"y":113,"text":"1191","fontSize":16}},
{"mark":{"type":"text","x":77.5,"y":113,"text":"1304","fontSize":16}},
{"mark":{"type":"text","x":151.5,"y":100,"text":"61","fontSize":16}},
{"mark":{"type":"text","x":222.5,"y":113,"text":"656","fontSize":16}},
{"mark":{"type":"text","x":276.5,"y":113,"text":"516","fontSize":16}},
{"mark":{"type":"text","x":338,"y":100,"text":"17","fontSize":16}},
{"mark":{"type":"text","x":428,"y":105,"text":"58%","fontSize":15,"color":"white"}},
{"mark":{"type":"text","x":428,"y":119,"text":"(688)","fontSize":12,"color":"white"}},
{"mark":{"type":"text","x":493,"y":105,"text":"42%","fontSize":15,"color":"white"}},
{"mark":{"type":"text","x":493,"y":119,"text":"(501)","fontSize":12,"color":"white"}},
{"mark":{"type":"text","x":637,"y":105,"text":"41%","fontSize":15,"color":"white"}},
{"mark":{"type":"text","x":637,"y":119,"text":"(205)","fontSize":12,"color":"white"}},
{"mark":{"type":"text","x":700,"y":105,"text":"58%","fontSize":15,"color":"white"}},
{"mark":{"type":"text","x":700,"y":119,"text":"(289)","fontSize":12,"color":"white"}},
{"mark":{"type":"text","x":667,"y":40,"text":"1%","fontSize":15,"align":"right"}},
{"mark":{"type":"text","x":671,"y":40,"text":"(7)","fontSize":12,"align":"left"}},
{"mark":{"type":"text","x":61,"y":364,"text":"53%","fontSize":16}},
{"mark":{"type":"text","x":61,"y":380,"text":"(268)","fontSize":13}},
{"mark":{"type":"text","x":120,"y":364,"text":"47%","fontSize":16}},
{"mark":{"type":"text","x":120,"y":380,"text":"(233)","fontSize":13}},
{"mark":{"type":"text","x":438,"y":339,"text":"24%","fontSize":15,"color":"white"}},
{"mark":{"type":"text","x":438,"y":355,"text":"(57)","fontSize":12,"color":"white"}},
{"mark":{"type":"text","x":492,"y":365,"text":"75%","fontSize":15,"color":"white"}},
{"mark":{"type":"text","x":492,"y":380.5,"text":"(174)","fontSize":12,"color":"white"}},
{"mark":{"type":"text","x":472.5,"y":297,"text":"1%","fontSize":15,"align":"right"}},
{"mark":{"type":"text","x":476,"y":297,"text":"(2)","fontSize":12,"align":"left"}},
{"mark":{"type":"text","x":637,"y":365,"text":"55%","fontSize":15,"color":"white"}},
{"mark":{"type":"text","x":638,"y":380.5,"text":"(148)","fontSize":12,"color":"white"}},
{"mark":{"type":"text","x":695,"y":365,"text":"43%","fontSize":15,"color":"white"}},
{"mark":{"type":"text","x":697,"y":380.5,"text":"(115)","fontSize":12,"color":"white"}},
{"mark":{"type":"text","x":660.5,"y":297,"text":"2%","fontSize":15,"align":"right"}},
{"mark":{"type":"text","x":664.5,"y":297,"text":"(5)","fontSize":12,"align":"left"}},
{"mark":{"type":"text","x":67,"y":575,"text":"16%","fontSize":15,"color":"white"}},
{"mark":{"type":"text","x":67,"y":591,"text":"(72)","fontSize":12,"color":"white"}},
{"mark":{"type":"text","x":121,"y":613,"text":"82%","fontSize":15,"color":"white"}},
{"mark":{"type":"text","x":121,"y":629,"text":"(362)","fontSize":12,"color":"white"}},
{"mark":{"type":"text","x":35.5,"y":544,"text":"0.5%","fontSize":15,"align":"right"}},
{"mark":{"type":"text","x":37.5,"y":544,"text":"(2)","fontSize":12,"align":"left"}},
{"mark":{"type":"text","x":142,"y":544,"text":"1%","fontSize":15,"align":"right"}},
{"mark":{"type":"text","x":145,"y":544,"text":"(4)","fontSize":12,"align":"left"}},
{"mark":{"type":"text","x":242,"y":308,"text":"P","fontSize":11,"fontStyle":"italic","align":"left"}},
{"mark":{"type":"text","x":250,"y":308,"text":"< 2.195 × 10","fontSize":11,"align":"left"}},
{"mark":{"type":"text","x":313,"y":303.5,"text":"-12","fontSize":8,"align":"left"}},
{"mark":{"type":"text","x":257,"y":458,"text":"clustered","fontSize":13}},
{"mark":{"type":"text","x":313,"y":458,"text":"solitary","fontSize":13}},
{"mark":{"type":"text","x":278,"y":473,"text":"enhancers","fontSize":13}},
{"mark":{"type":"text","x":348,"y":533,"text":"super-enhancer","fontSize":10}},
{"mark":{"type":"text","x":658,"y":533,"text":"super-enhancer","fontSize":10}},
{"mark":{"type":"text","x":267,"y":563,"text":"L1","fontSize":16,"align":"right"}},
{"mark":{"type":"text","x":267,"y":593,"text":"I12","fontSize":16,"align":"right"}},
{"mark":{"type":"text","x":267,"y":623,"text":"I24","fontSize":16,"align":"right"}},
{"mark":{"type":"text","x":267,"y":653,"text":"L1","fontSize":16,"align":"right"}},
{"mark":{"type":"text","x":267,"y":683,"text":"I12","fontSize":16,"align":"right"}},
{"mark":{"type":"text","x":267,"y":713,"text":"I24","fontSize":16,"align":"right"}},
{"mark":{"type":"text","x":554,"y":563,"text":"L1","fontSize":16,"align":"right"}},
{"mark":{"type":"text","x":554,"y":593,"text":"I12","fontSize":16,"align":"right"}},
{"mark":{"type":"text","x":554,"y":623,"text":"I24","fontSize":16,"align":"right"}},
{"mark":{"type":"text","x":554,"y":653,"text":"L1","fontSize":16,"align":"right"}},
{"mark":{"type":"text","x":554,"y":683,"text":"I12","fontSize":16,"align":"right"}},
{"mark":{"type":"text","x":554,"y":713,"text":"I24","fontSize":16,"align":"right"}},
{"mark":{"type":"text","x":274,"y":550,"text":"138","fontSize":12,"align":"left"}},
{"mark":{"type":"text","x":274,"y":580,"text":"138","fontSize":12,"align":"left"}},
{"mark":{"type":"text","x":274,"y":610,"text":"138","fontSize":12,"align":"left"}},
{"mark":{"type":"text","x":274,"y":641,"text":"43","fontSize":12,"align":"left"}},
{"mark":{"type":"text","x":274,"y":671,"text":"43","fontSize":12,"align":"left"}},
{"mark":{"type":"text","x":274,"y":701,"text":"43","fontSize":12,"align":"left"}},
{"mark":{"type":"text","x":560,"y":550,"text":"104","fontSize":12,"align":"left"}},
{"mark":{"type":"text","x":560,"y":580,"text":"210","fontSize":12,"align":"left"}},
{"mark":{"type":"text","x":560,"y":610,"text":"104","fontSize":12,"align":"left"}},
{"mark":{"type":"text","x":560,"y":641,"text":"26","fontSize":12,"align":"left"}},
{"mark":{"type":"text","x":560,"y":671,"text":"26","fontSize":12,"align":"left"}},
{"mark":{"type":"text","x":560,"y":701,"text":"26","fontSize":12,"align":"left"}},
{"mark":{"type":"text","x":233,"y":585,"text":"STAT5A","fontSize":19,"angle":270,"baseline":"middle"}},
{"mark":{"type":"text","x":233,"y":679,"text":"H3K27ac","fontSize":19,"angle":270,"baseline":"middle"}},
{"mark":{"type":"text","x":520,"y":585,"text":"STAT5A","fontSize":19,"angle":270,"baseline":"middle"}},
{"mark":{"type":"text","x":520,"y":679,"text":"H3K27ac","fontSize":19,"angle":270,"baseline":"middle"}},
{"mark":{"type":"text","x":441,"y":740,"text":"Odam","fontSize":18,"fontStyle":"italic"}},
{"mark":{"type":"text","x":601,"y":740,"text":"Nedd4l","fontSize":18,"fontStyle":"italic"}}
]
}
